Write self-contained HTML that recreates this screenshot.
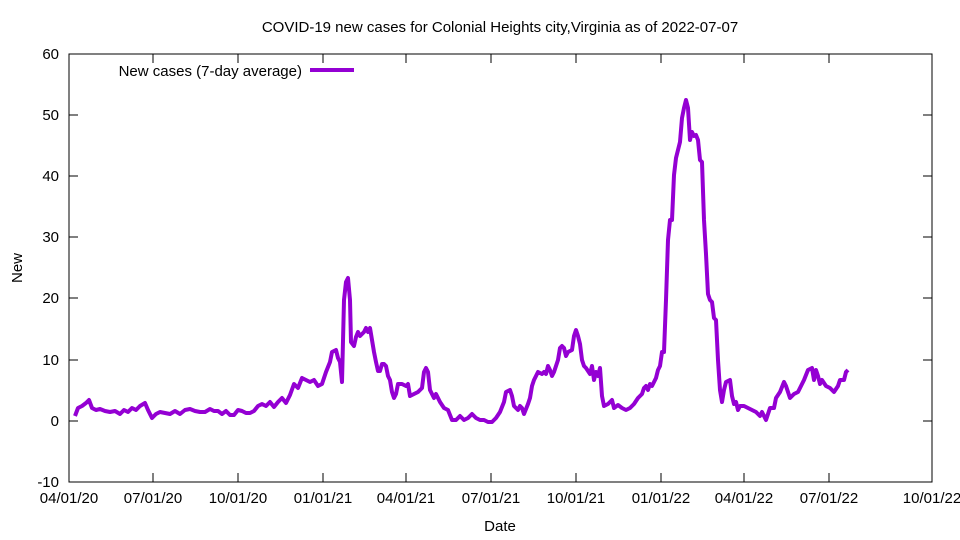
<!DOCTYPE html>
<html><head><meta charset="utf-8"><style>body{margin:0;background:#fff}svg{display:block}text{font-family:"Liberation Sans",sans-serif;font-size:15px;fill:#000}</style></head><body>
<svg width="960" height="540" viewBox="0 0 960 540">
<rect x="69" y="54" width="863" height="428" fill="none" stroke="#000" stroke-width="1"/>
<g stroke="#000" stroke-width="1">
<path d="M69 482h9M932 482h-9M69 421h9M932 421h-9M69 360h9M932 360h-9M69 298h9M932 298h-9M69 237h9M932 237h-9M69 176h9M932 176h-9M69 115h9M932 115h-9M69 54h9M932 54h-9"/>
<path d="M153 482v-9M153 54v9M238 482v-9M238 54v9M323 482v-9M323 54v9M406 482v-9M406 54v9M491 482v-9M491 54v9M576 482v-9M576 54v9M661 482v-9M661 54v9M744 482v-9M744 54v9M829 482v-9M829 54v9"/>
</g>
<g text-anchor="end">
<text x="59" y="487">-10</text><text x="59" y="426">0</text><text x="59" y="365">10</text><text x="59" y="303">20</text><text x="59" y="242">30</text><text x="59" y="181">40</text><text x="59" y="120">50</text><text x="59" y="59">60</text>
</g>
<g text-anchor="middle">
<text x="69" y="503">04/01/20</text><text x="153" y="503">07/01/20</text><text x="238" y="503">10/01/20</text><text x="323" y="503">01/01/21</text><text x="406" y="503">04/01/21</text><text x="491" y="503">07/01/21</text><text x="576" y="503">10/01/21</text><text x="661" y="503">01/01/22</text><text x="744" y="503">04/01/22</text><text x="829" y="503">07/01/22</text><text x="932" y="503">10/01/22</text>
<text x="500" y="531">Date</text>
<text x="500" y="32">COVID-19 new cases for Colonial Heights city,Virginia as of 2022-07-07</text>
<text transform="translate(22,268) rotate(-90)">New</text>
</g>
<text x="302" y="76" text-anchor="end">New cases (7-day average)</text>
<path d="M310 70h44" stroke="#9400d3" stroke-width="4"/>
<polyline fill="none" stroke="#9400d3" stroke-width="4" stroke-linejoin="round" points="75,416 78,408 82,406 86,403 89,400 92,408 96,410 100,409 105,411 110,412 115,411 120,414 124,410 128,412 132,408 136,410 140,406 145,403 148,410 152,418 156,414 160,412 165,413 170,414 175,411 180,414 185,410 190,409 195,411 200,412 205,412 210,409 214,411 218,411 222,414 226,411 230,415 234,415 238,410 242,411 246,413 250,413 254,411 258,406 262,404 266,406 270,402 274,407 278,402 282,398 286,403 290,395 294,384 298,388 302,378 306,380 310,382 314,380 318,386 322,384 326,372 330,362 332,352 336,350 338,358 340,362 342,382 344,300 346,282 348,278 350,300 351,342 354,346 356,337 358,332 360,336 362,334 364,332 366,328 368,332 370,328 372,340 374,352 376,362 378,371 380,371 382,364 384,364 386,366 388,376 390,380 392,392 394,398 396,394 398,384 402,384 406,386 408,384 410,396 414,394 418,392 422,388 424,372 426,368 428,372 430,390 434,398 436,394 440,402 444,408 448,410 452,420 456,420 460,416 464,420 468,418 472,414 476,418 480,420 484,420 488,422 492,422 496,418 500,412 504,402 506,392 510,390 512,396 514,406 518,410 520,406 522,408 524,414 528,404 530,398 532,386 534,380 536,376 538,372 542,374 544,372 546,374 548,366 550,370 552,376 554,372 556,366 558,360 560,348 562,346 564,348 566,356 568,352 572,350 574,336 576,330 578,336 580,344 582,360 584,366 586,368 590,374 592,366 594,380 596,372 598,376 600,368 602,396 604,406 608,404 612,400 614,408 618,405 622,408 626,410 630,408 634,404 638,398 640,396 642,394 644,388 646,386 648,390 650,384 652,386 654,382 656,378 658,370 660,366 662,352 664,352 666,300 668,240 670,220 672,220 674,175 676,158 678,150 680,142 682,118 684,108 686,100 688,108 690,140 692,132 694,136 696,135 698,140 700,160 702,162 704,220 706,254 708,294 710,300 712,302 714,318 716,320 718,360 720,390 722,402 724,390 726,382 730,380 732,396 734,404 736,402 738,410 740,406 744,406 748,408 752,410 756,412 760,416 762,412 766,420 770,408 774,408 776,398 780,392 784,382 786,386 788,392 790,398 794,394 798,392 802,384 804,380 808,370 812,368 814,380 816,370 818,376 820,384 822,380 826,386 830,388 834,392 838,386 840,380 844,380 846,372 848,370"/>
</svg>
</body></html>
